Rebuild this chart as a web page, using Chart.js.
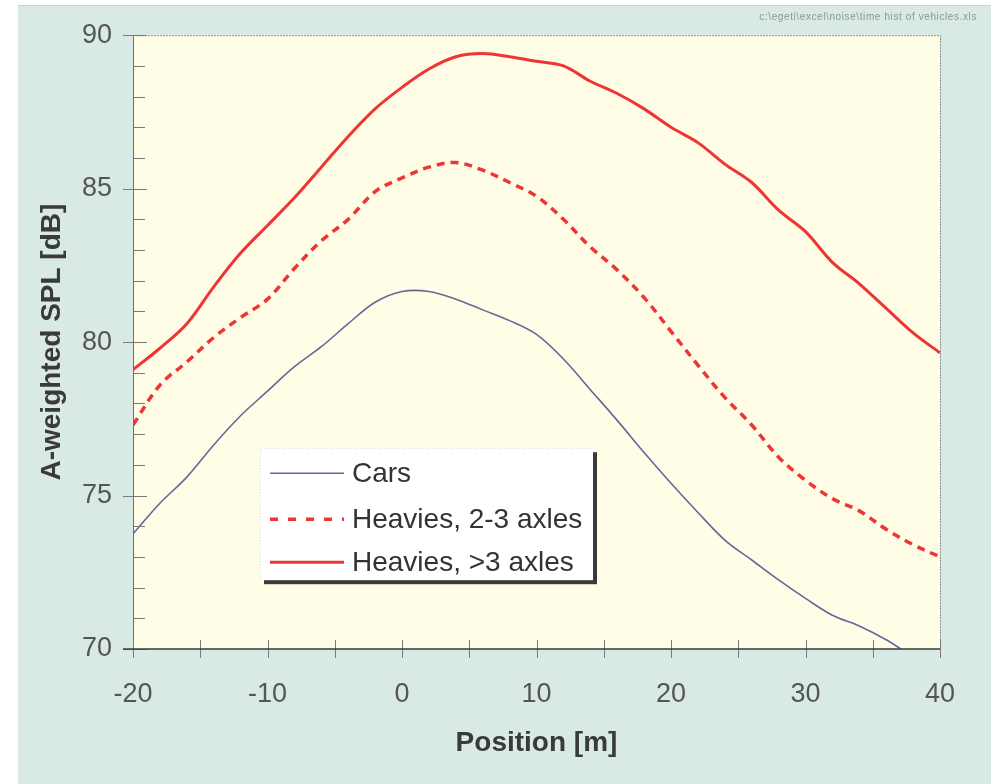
<!DOCTYPE html>
<html>
<head>
<meta charset="utf-8">
<script src="https://cdn.jsdelivr.net/npm/chart.js@4.4.1/dist/chart.umd.min.js"></script>
<style>
  html, body { margin: 0; padding: 0; background: #ffffff; }
  body { width: 991px; height: 784px; position: relative; overflow: hidden; }
  #wrap { position: absolute; left: 18px; top: 5px; width: 973px; height: 779px;
          background: #d9eae6; border-top: 1px solid #c9d3d1; box-sizing: border-box; }
  #fname { position: absolute; right: 14px; top: 5px; font: 10px "Liberation Sans", Arial, sans-serif;
           color: #8a9695; letter-spacing: 0.6px; white-space: nowrap; }
  canvas { display: block; }
</style>
</head>
<body>
<div id="wrap">
  <canvas id="c"></canvas>
  <div id="fname">c:\egeti\excel\noise\time hist of vehicles.xls</div>
</div>
<script>
// ---- data ----
const positions = [-20,-18,-16,-14,-12,-10,-8,-6,-4,-2,0,2,4,6,8,10,12,14,16,18,20,22,24,26,28,30,32,34,36,38,40];
const cars = [73.75,74.75,75.6,76.65,77.6,78.4,79.2,79.85,80.6,81.3,81.65,81.65,81.4,81.05,80.7,80.25,79.45,78.45,77.45,76.4,75.4,74.45,73.55,72.9,72.25,71.65,71.1,70.75,70.3,69.75,69.3];
const heavies23 = [77.3,78.6,79.35,80.15,80.8,81.4,82.4,83.3,84.0,84.9,85.35,85.7,85.85,85.6,85.2,84.75,84.0,83.1,82.35,81.45,80.35,79.25,78.2,77.3,76.25,75.5,74.9,74.5,73.9,73.4,73.0];
const heavies3 = [79.1,79.8,80.6,81.8,82.9,83.8,84.7,85.7,86.7,87.6,88.3,88.9,89.3,89.4,89.3,89.15,89.0,88.5,88.1,87.6,87.0,86.5,85.8,85.2,84.3,83.6,82.6,81.9,81.1,80.3,79.65];
const seriesLabels = ["Cars", "Heavies, 2-3 axles", "Heavies, >3 axles"];
const xTickLabels = ["-20","-10","0","10","20","30","40"];
const yTickLabels = ["70","75","80","85","90"];

const FONT = '"Liberation Sans", Arial, sans-serif';
const toPts = arr => positions.map((p, i) => ({ x: p, y: arr[i] }));

const frame = {
  id: 'frame',
  beforeDraw(chart) {
    const { ctx, chartArea: a } = chart;
    ctx.save();
    ctx.fillStyle = '#fffde6';
    ctx.fillRect(a.left, a.top, a.right - a.left, a.bottom - a.top);
    ctx.restore();
  },
  afterDatasetsDraw(chart) {
    const { ctx, chartArea: a, scales: { x, y } } = chart;
    ctx.save();
    // top & right border (dotted grey)
    ctx.strokeStyle = '#8c8c8c';
    ctx.lineWidth = 1;
    ctx.setLineDash([2, 1]);
    ctx.beginPath();
    ctx.moveTo(a.left, a.top + 0.5); ctx.lineTo(a.right + 0.5, a.top + 0.5);
    ctx.lineTo(a.right + 0.5, a.bottom);
    ctx.stroke();
    ctx.setLineDash([]);
    // left border
    ctx.strokeStyle = '#6e6e6e';
    ctx.beginPath();
    ctx.moveTo(a.left + 0.5, a.top); ctx.lineTo(a.left + 0.5, a.bottom);
    ctx.stroke();
    // y ticks
    ctx.strokeStyle = '#7a7a7a';
    for (let v = 70; v <= 90; v += 1) {
      const py = Math.round(y.getPixelForValue(v)) + 0.5;
      ctx.beginPath();
      if (v % 5 === 0) { ctx.moveTo(a.left - 10, py); ctx.lineTo(a.left + 14, py); }
      else { ctx.moveTo(a.left, py); ctx.lineTo(a.left + 12, py); }
      ctx.stroke();
    }
    // x ticks
    for (let v = -20; v <= 40; v += 5) {
      const px = Math.round(x.getPixelForValue(v)) + 0.5;
      ctx.beginPath();
      ctx.moveTo(px, a.bottom - 9); ctx.lineTo(px, a.bottom + 9);
      ctx.stroke();
    }
    // bottom axis line
    ctx.strokeStyle = '#3a3a3a';
    ctx.lineWidth = 1.5;
    ctx.beginPath();
    ctx.moveTo(a.left - 10, a.bottom); ctx.lineTo(a.right, a.bottom);
    ctx.stroke();

    // legend box (from dataset properties)
    const bx = a.left + 127, by = a.top + 413, bw = 333, bh = 132;
    ctx.fillStyle = '#3a3a3a';
    ctx.fillRect(bx + 4, by + 4, bw, bh);
    ctx.fillStyle = '#ffffff';
    ctx.fillRect(bx, by, bw, bh);
    ctx.strokeStyle = '#d8d8d8';
    ctx.lineWidth = 1;
    ctx.setLineDash([1, 2]);
    ctx.beginPath();
    ctx.moveTo(bx + 0.5, by + bh); ctx.lineTo(bx + 0.5, by + 0.5); ctx.lineTo(bx + bw, by + 0.5);
    ctx.stroke();
    ctx.setLineDash([]);
    const rows = [25, 71, 114];
    chart.data.datasets.forEach((ds, i) => {
      const ly = by + rows[i];
      ctx.strokeStyle = ds.borderColor;
      ctx.lineWidth = ds.borderWidth;
      ctx.setLineDash(i === 1 ? [8, 10] : []);
      ctx.beginPath();
      ctx.moveTo(bx + 10, ly); ctx.lineTo(bx + 84, ly);
      ctx.stroke();
      ctx.setLineDash([]);
      ctx.fillStyle = '#333333';
      ctx.font = '28px ' + FONT;
      ctx.textBaseline = 'middle';
      ctx.textAlign = 'left';
      ctx.fillText(ds.label, bx + 92, ly + 1);
    });
    ctx.restore();
  }
};

new Chart(document.getElementById('c'), {
  type: 'line',
  data: {
    datasets: [
      { label: seriesLabels[0], data: toPts(cars), borderColor: '#66679a', borderWidth: 1.6, pointRadius: 0, tension: 0.35, fill: false },
      { label: seriesLabels[1], data: toPts(heavies23), borderColor: '#ee3535', borderWidth: 3.5, borderDash: [8, 6], pointRadius: 0, tension: 0.35, fill: false },
      { label: seriesLabels[2], data: toPts(heavies3), borderColor: '#ee3535', borderWidth: 3, pointRadius: 0, tension: 0.35, fill: false }
    ]
  },
  options: {
    responsive: true,
    maintainAspectRatio: false,
    animation: false,
    layout: { padding: { left: 0, right: 51, top: 22, bottom: 0 } },
    plugins: { legend: { display: false }, tooltip: { enabled: false } },
    scales: {
      x: {
        type: 'linear', min: -20, max: 40,
        grid: { display: false },
        border: { display: false },
        afterBuildTicks: s => { s.ticks = xTickLabels.map(t => ({ value: Number(t) })); },
        ticks: { font: { size: 27, family: FONT }, color: '#555555', padding: 21, maxRotation: 0,
                 callback: v => xTickLabels.find(t => Number(t) === v) },
        title: { display: true, text: 'Position [m]', color: '#3a3a3a',
                 font: { size: 28, weight: 'bold', family: FONT }, padding: { top: 0, bottom: 24 } },
        afterFit: s => { s.height = 135; }
      },
      y: {
        type: 'linear', min: 70, max: 90,
        grid: { display: false },
        border: { display: false },
        afterBuildTicks: s => { s.ticks = yTickLabels.map(t => ({ value: Number(t) })); },
        ticks: { font: { size: 27, family: FONT }, color: '#555555', padding: 13,
                 callback: v => yTickLabels.find(t => Number(t) === v) },
        title: { display: true, text: 'A-weighted SPL [dB]', color: '#3a3a3a',
                 font: { size: 28, weight: 'bold', family: FONT }, padding: { top: 17, bottom: 0 } },
        afterFit: s => { s.width = 115; }
      }
    }
  },
  plugins: [frame]
});
</script>
</body>
</html>
